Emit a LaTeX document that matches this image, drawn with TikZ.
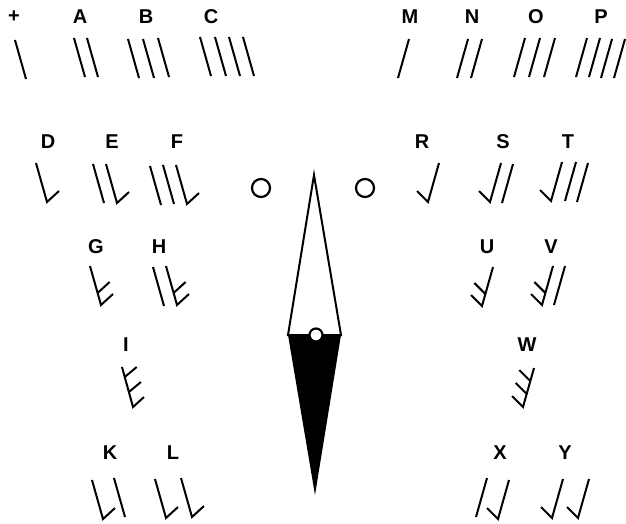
\documentclass[tikz,border=0pt]{standalone}
\usepackage{fontspec}
\setmainfont{Liberation Sans}
\tikzset{
  lbl/.style={font=\bfseries\fontsize{20}{20}\selectfont, inner sep=0pt},
  barline/.style={line width=2pt},
  ring/.style={draw, line width=2.2pt, fill=white}
}
\begin{document}
\begin{tikzpicture}[x=1pt, y=-1pt]
\useasboundingbox (0,0) rectangle (626,523);
% letters
\node[lbl] (symplus) at (14,17) {+};
\node[lbl] (symA) at (80,17) {A};
\node[lbl] (symB) at (146,17) {B};
\node[lbl] (symC) at (211,17) {C};
\node[lbl] (symM) at (410,17) {M};
\node[lbl] (symN) at (472,17) {N};
\node[lbl] (symO) at (536,17) {O};
\node[lbl] (symP) at (601,17) {P};
\node[lbl] (symD) at (48,142) {D};
\node[lbl] (symE) at (112,142) {E};
\node[lbl] (symF) at (177,142) {F};
\node[lbl] (symR) at (422,142) {R};
\node[lbl] (symS) at (503,142) {S};
\node[lbl] (symT) at (568,142) {T};
\node[lbl] (symG) at (96,247) {G};
\node[lbl] (symH) at (159,247) {H};
\node[lbl] (symU) at (487,247) {U};
\node[lbl] (symV) at (551,247) {V};
\node[lbl] (symI) at (126,345) {I};
\node[lbl] (symW) at (527,345) {W};
\node[lbl] (symK) at (110,453) {K};
\node[lbl] (symL) at (173,453) {L};
\node[lbl] (symX) at (500,453) {X};
\node[lbl] (symY) at (565,453) {Y};

% top row
\draw[barline] (15,40) -- ++(11,39);
\draw[barline] (74,38) -- ++(11,39) (87,38) -- ++(11,39);
\draw[barline] (128,39) -- ++(11,39) (143,39) -- ++(11,39) (158,38) -- ++(11,39);
\draw[barline] (200,37) -- ++(11,39) (215,37) -- ++(11,39) (229,37) -- ++(11,39) (243,37) -- ++(11,39);
\draw[barline] (409,39) -- ++(-11,39);
\draw[barline] (468,39) -- ++(-11,39) (482,39) -- ++(-11,39);
\draw[barline] (525,38) -- ++(-11,39) (540,38) -- ++(-11,39) (555,38) -- ++(-11,39);
\draw[barline] (587,38) -- ++(-11,39) (600,38) -- ++(-11,39) (612,39) -- ++(-11,39) (625,39) -- ++(-11,39);

% second row
\draw[barline] (36,163) -- ++(11,39) -- ++(12,-11);
\draw[barline] (93,164) -- ++(11,39) (106,164) -- ++(11,39) -- ++(12,-11);
\draw[barline] (150,166) -- ++(11,39) (163,165) -- ++(11,39) (176,165) -- ++(11,39) -- ++(12,-11);
\draw[barline] (439,163) -- ++(-11,39) -- ++(-11,-11);
\draw[barline] (501,163) -- ++(-11,39) -- ++(-11,-11) (513,164) -- ++(-11,39);
\draw[barline] (562,162) -- ++(-11,39) -- ++(-11,-11) (576,162) -- ++(-11,39) (588,163) -- ++(-11,39);

% third row
\draw[barline] (90,266) -- ++(11,39) -- ++(12,-11) (97.6,293) -- ++(12,-11);
\draw[barline] (153,267) -- ++(11,39) (166,266) -- ++(11,39) -- ++(12,-11) (173.6,293) -- ++(12,-11);
\draw[barline] (493,267) -- ++(-11,39) -- ++(-11,-11) (485.4,294) -- ++(-11,-11);
\draw[barline] (553,266) -- ++(-11,39) -- ++(-11,-11) (545.4,293) -- ++(-11,-11) (565,266) -- ++(-11,39);

% fourth row
\draw[barline] (122,367) -- ++(11,40) -- ++(11,-10) (128.9,392) -- ++(12,-10) (124.7,377) -- ++(12,-10);
\draw[barline] (534,368) -- ++(-11,39) -- ++(-11,-11) (526.7,394) -- ++(-11,-11) (530.3,381) -- ++(-11,-11);

% bottom row
\draw[barline] (92,480) -- ++(11,39) -- ++(12,-11) (114,478) -- ++(11,39);
\draw[barline] (155,479) -- ++(11,39) -- ++(12,-11) (181,478) -- ++(11,39) -- ++(12,-11);
\draw[barline] (487,478) -- ++(-11,39) (509,480) -- ++(-11,39) -- ++(-11,-11);
\draw[barline] (563,479) -- ++(-11,39) -- ++(-11,-11) (589,479) -- ++(-11,39) -- ++(-11,-11);

% circles and needle
\draw[ring] (261,188) circle[radius=9pt];
\draw[ring] (365,188) circle[radius=9pt];
\draw[line width=2pt, fill=white] (314,175) -- (288,335) -- (341,335) -- cycle;
\fill[black] (288,335) -- (341,335) -- (315,495) -- cycle;
\draw[ring] (316,335) circle[radius=6.5pt];
\end{tikzpicture}
\end{document}
